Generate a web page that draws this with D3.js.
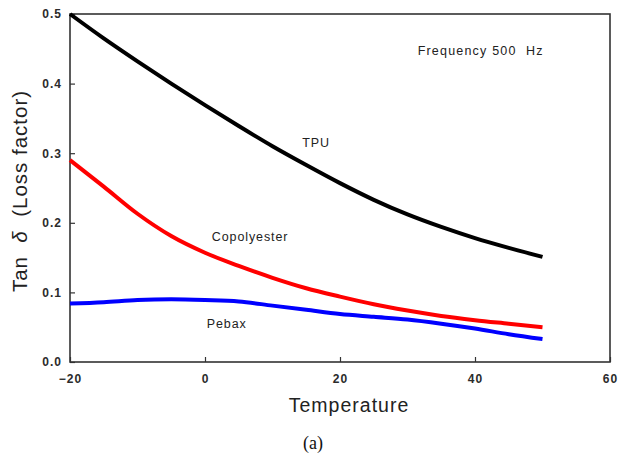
<!DOCTYPE html>
<html>
<head>
<meta charset="utf-8">
<script src="https://cdn.jsdelivr.net/npm/d3@7"></script>
<style>
  body { margin: 0; background: #fff; }
  svg { display: block; }
</style>
</head>
<body>
<svg id="chart"></svg>
<script>
const temps = [-20, -15, -10, -5, 0, 5, 10, 15, 20, 25, 30, 35, 40, 45, 50];
const tpu = [0.500, 0.465, 0.432, 0.400, 0.369, 0.339, 0.310, 0.283, 0.257, 0.233, 0.212, 0.194, 0.178, 0.164, 0.151];
const copolyester = [0.290, 0.252, 0.213, 0.181, 0.157, 0.138, 0.121, 0.106, 0.094, 0.083, 0.074, 0.066, 0.060, 0.055, 0.050];
const pebax = [0.084, 0.086, 0.089, 0.090, 0.089, 0.087, 0.081, 0.075, 0.069, 0.065, 0.061, 0.055, 0.048, 0.040, 0.033];
const xTicks = [-20, 0, 20, 40, 60];
const yTicks = [0.0, 0.1, 0.2, 0.3, 0.4, 0.5];
const colors = ['#000000', '#ff0000', '#0000ff'];

const width = 618;
const height = 460;
const margin = { top: 14, right: 8, bottom: 98, left: 70 };

const svg = d3.select('#chart').attr('width', width).attr('height', height);

const x = d3.scaleLinear().domain([-20, 60]).range([margin.left, width - margin.right]);
const y = d3.scaleLinear().domain([0, 0.5]).range([height - margin.bottom, margin.top]);

// axes with inward ticks
const xAxis = g => g
  .attr('transform', `translate(0,${height - margin.bottom})`)
  .call(d3.axisBottom(x).tickValues(xTicks).tickSize(-5).tickPadding(12).tickFormat(d3.format('d')))
  .call(g => g.select('.domain').remove());

const yAxis = g => g
  .attr('transform', `translate(${margin.left},0)`)
  .call(d3.axisLeft(y).tickValues(yTicks).tickSize(-5).tickPadding(8).tickFormat(d3.format('.1f')))
  .call(g => g.select('.domain').remove());

svg.append('g').call(xAxis);
svg.append('g').call(yAxis);

svg.selectAll('.tick line').attr('stroke', '#333').attr('stroke-width', 1.2);
svg.selectAll('.tick text')
  .attr('fill', '#2b2b2b')
  .style('font-family', 'Liberation Sans, Arial, sans-serif')
  .style('font-size', '12px')
  .style('font-weight', 'bold')
  .style('letter-spacing', '1px');

// frame
svg.append('rect')
  .attr('x', x(-20))
  .attr('y', y(0.5))
  .attr('width', x(60) - x(-20))
  .attr('height', y(0) - y(0.5))
  .attr('fill', 'none')
  .attr('stroke', '#333')
  .attr('stroke-width', 1.6);

const line = d3.line()
  .x((d, i) => x(temps[i]))
  .y(d => y(d))
  .curve(d3.curveMonotoneX);

[tpu, copolyester, pebax].forEach((vals, i) => {
  svg.append('path')
    .datum(vals)
    .attr('fill', 'none')
    .attr('stroke', colors[i])
    .attr('stroke-width', 4)
    .attr('d', line);
});

// in-plot labels
const labelFont = 'Liberation Sans, Arial, sans-serif';
const labels = [
  { text: 'TPU', t: 14.4, v: 0.309 },
  { text: 'Copolyester', t: 1.0, v: 0.174 },
  { text: 'Pebax', t: 0.25, v: 0.049 },
  { text: 'Frequency 500  Hz', t: 31.5, v: 0.441 }
];
labels.forEach(l => {
  svg.append('text')
    .attr('x', x(l.t))
    .attr('y', y(l.v))
    .attr('fill', '#222')
    .style('font-family', labelFont)
    .style('font-size', '12.5px')
    .style('letter-spacing', l.text.startsWith('Freq') ? '1.2px' : '0.9px')
    .style('white-space', 'pre')
    .text(l.text);
});

// axis titles
svg.append('text')
  .attr('x', 349)
  .attr('y', 412)
  .attr('text-anchor', 'middle')
  .attr('fill', '#222')
  .style('font-family', labelFont)
  .style('font-size', '19.5px')
  .style('letter-spacing', '1px')
  .text('Temperature');

const yTitle = svg.append('text')
  .attr('transform', 'translate(27,191) rotate(-90)')
  .attr('text-anchor', 'middle')
  .attr('fill', '#222')
  .style('font-family', labelFont)
  .style('font-size', '20.5px')
  .style('letter-spacing', '1px')
  .style('white-space', 'pre');
yTitle.append('tspan').text('Tan ');
yTitle.append('tspan').style('font-style', 'italic').text(' δ ');
yTitle.append('tspan').text(' (Loss factor)');

svg.append('text')
  .attr('x', 313)
  .attr('y', 449)
  .attr('text-anchor', 'middle')
  .attr('fill', '#111')
  .style('font-family', 'Liberation Serif, Times New Roman, serif')
  .style('font-size', '18px')
  .text('(a)');
</script>
</body>
</html>
